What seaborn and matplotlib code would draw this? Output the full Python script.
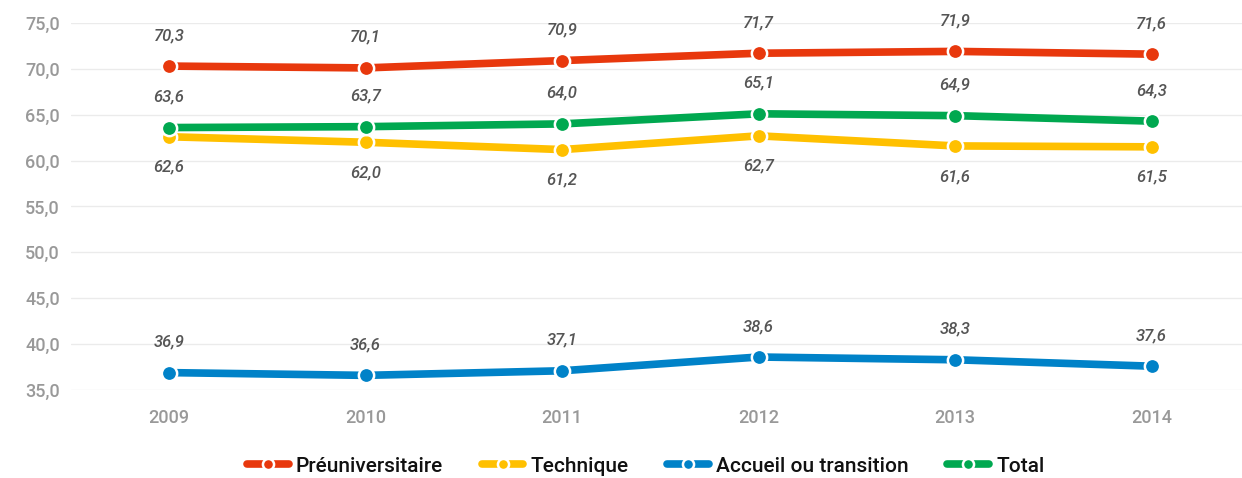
import pandas as pd
import seaborn as sns
import matplotlib.pyplot as plt
from matplotlib.ticker import FuncFormatter

# Data
years = [2009, 2010, 2011, 2012, 2013, 2014]
preuniv = [70.3, 70.1, 70.9, 71.7, 71.9, 71.6]
technique = [62.6, 62.0, 61.2, 62.7, 61.6, 61.5]
accueil = [36.9, 36.6, 37.1, 38.6, 38.3, 37.6]
total = [63.6, 63.7, 64.0, 65.1, 64.9, 64.3]

series_names = ["Préuniversitaire", "Technique", "Accueil ou transition", "Total"]
series_values = [preuniv, technique, accueil, total]
colors = ["#E8380D", "#FFC000", "#0082C8", "#00A850"]
label_side = [1, -1, 1, 1]  # label above (1) or below (-1) the point

rows = []
for name, vals in zip(series_names, series_values):
    for y, v in zip(years, vals):
        rows.append({"Année": y, "Valeur": v, "Série": name})
df = pd.DataFrame(rows)

sns.set_style("white")
plt.rcParams['font.family'] = ['Roboto', 'DejaVu Sans']

fig = plt.figure(figsize=(12.42, 4.78), dpi=100)
ax = fig.add_axes([0.057, 0.184, 0.943, 0.768])

sns.lineplot(data=df, x="Année", y="Valeur", hue="Série", hue_order=series_names,
             palette=colors, linewidth=5.5, marker="o", markersize=11,
             markeredgecolor="white", markeredgewidth=1.8, ax=ax, legend=False)

# Value labels
for name, vals, side in zip(series_names, series_values, label_side):
    for y, v in zip(years, vals):
        ax.annotate(f"{v:.1f}".replace(".", ","), (y, v),
                    xytext=(0, 22 * side), textcoords="offset points",
                    ha="center", va="center", fontsize=12,
                    fontstyle="italic", fontweight="medium", color="#555555")

ax.set_xlim(2008.5, 2014.46)
ax.set_ylim(35, 75)
ax.set_yticks(range(35, 80, 5))
ax.set_xticks(years)
ax.yaxis.set_major_formatter(FuncFormatter(lambda v, p: f"{v:.1f}".replace(".", ",")))
ax.grid(axis="y", color="#EBEBEB", linewidth=1)
ax.set_axisbelow(True)
for s in ax.spines.values():
    s.set_visible(False)
ax.tick_params(axis="both", length=0, labelsize=13, labelcolor="#999999")
for lbl in ax.get_xticklabels() + ax.get_yticklabels():
    lbl.set_fontweight("medium")
ax.tick_params(axis="x", pad=14)
ax.tick_params(axis="y", pad=8)
ax.set_xlabel("")
ax.set_ylabel("")

# Legend
handles = [plt.Line2D([0], [0], color=c, linewidth=5.5, marker="o", markersize=8,
                      markeredgecolor="white", markeredgewidth=1.8) for c in colors]
leg = fig.legend(handles, series_names, loc="center", bbox_to_anchor=(0.52, 0.025),
                 ncol=4, frameon=False, fontsize=15, handlelength=2.0,
                 columnspacing=1.85, handletextpad=0.35)
for t in leg.get_texts():
    t.set_fontweight("medium")
    t.set_color("#111111")

fig.savefig("out.png", dpi=100)
